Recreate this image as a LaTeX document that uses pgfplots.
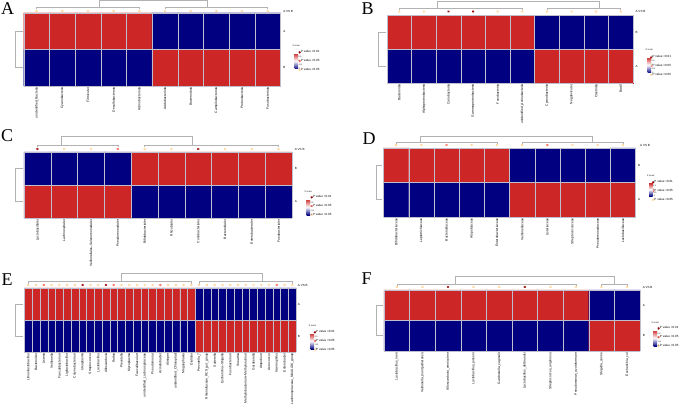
\documentclass[border=0pt]{standalone}
\usepackage{fontspec}
\setmainfont{Liberation Sans}
\newfontfamily\serif{Liberation Serif}
\usepackage{pgfplots}
\pgfplotsset{compat=1.18}
\definecolor{gridc}{RGB}{190,190,205}
\definecolor{dend}{RGB}{178,178,178}
\definecolor{pdr}{RGB}{160,10,10}
\definecolor{psal}{RGB}{255,105,85}
\definecolor{plt}{RGB}{255,212,150}
\newcommand{\tf}{\fontsize{3}{3}\selectfont}
\pgfplotsset{
 hm/.style={
  scale only axis, clip=false, xmin=0, ymin=0, anchor=north west,
  axis line style={draw=none}, major tick length=0pt, ytick=\empty,
  /pgf/number format/assume math mode=true,
  xticklabel style={rotate=90, anchor=east, font=\fontsize{3.3}{3.3}\selectfont, inner sep=1pt},
  colormap={zs}{rgb255=(0,0,128) color=(white) rgb255=(205,38,38)},
  point meta min=-1, point meta max=1,
  colorbar,
  colorbar style={at={(parent axis.north east)}, anchor=north west, width=3.5pt, height=16pt,
    ytick={-1,-0.5,0,0.5,1}, yticklabel style={font=\fontsize{2}{2}\selectfont, inner sep=0.4pt},
    /pgf/number format/assume math mode=true,
    major tick length=0pt, axis line style={draw=none},
    title={Z score}, title style={font=\fontsize{2.2}{2.2}\selectfont, inner sep=0.3pt}},
  legend style={draw=none, fill=none, anchor=north west, font=\fontsize{3}{3}\selectfont, inner sep=0pt, row sep=4.5pt, nodes={inner sep=0.3pt}},
  legend cell align=left,
  legend image code/.code={\draw[#1] plot coordinates {(1.2pt,0pt)};},
 },
 dd/.style={dend, line width=0.55pt, mark=none, forget plot},
 st/.style={only marks, mark=asterisk, mark size=1.2pt, line width=0.45pt, forget plot},
 gl/.style={gridc, line width=0.35pt, mark=none, forget plot},
}
\newcommand{\plegend}{%
 \addlegendimage{only marks, mark=asterisk, mark size=1.2pt, line width=0.45pt, color=pdr}\addlegendentry{P value <0.01}
 \addlegendimage{only marks, mark=asterisk, mark size=1.2pt, line width=0.45pt, color=psal}\addlegendentry{P value <0.05}
 \addlegendimage{only marks, mark=asterisk, mark size=1.2pt, line width=0.45pt, color=plt}\addlegendentry{P value >0.05}}
\begin{document}
\begin{tikzpicture}[x=1pt,y=1pt]
\path[use as bounding box] (0pt,0pt) rectangle (685pt,413pt);
\node[anchor=base west, inner sep=0, font=\serif\fontsize{18}{18}\selectfont] at (1pt,398pt) {A};
\node[anchor=base west, inner sep=0, font=\serif\fontsize{18}{18}\selectfont] at (361.5pt,398pt) {B};
\node[anchor=base west, inner sep=0, font=\serif\fontsize{18}{18}\selectfont] at (1pt,271.5pt) {C};
\node[anchor=base west, inner sep=0, font=\serif\fontsize{18}{18}\selectfont] at (362.5pt,269pt) {D};
\node[anchor=base west, inner sep=0, font=\serif\fontsize{18}{18}\selectfont] at (1.5pt,128pt) {E};
\node[anchor=base west, inner sep=0, font=\serif\fontsize{18}{18}\selectfont] at (361.5pt,129pt) {F};

% ---------------- A
\begin{axis}[hm, at={(23.8pt,400pt)}, width=256.7pt, height=73pt, xmax=10, ymax=73,
 xtick={0.5,1.5,...,9.5},
 xticklabels={unidentified\_Bacteria,Cyanobacteria,Firmicutes,Desulfobacterota,Actinobacteriota,Acidobacteriota,Bacteroidota,Campilobacterota,Proteobacteria,Fusobacteriota},
 colorbar style={xshift=5.5pt, yshift=-40pt},
 legend style={at={(1.07,0.493)}}]
\plegend
\addplot[matrix plot*, mesh/cols=10, point meta=explicit, forget plot] coordinates {
(0.5,18.25)[-1] (1.5,18.25)[-1] (2.5,18.25)[-1] (3.5,18.25)[-1] (4.5,18.25)[-1] (5.5,18.25)[1] (6.5,18.25)[1] (7.5,18.25)[1] (8.5,18.25)[1] (9.5,18.25)[1]
(0.5,54.75)[1] (1.5,54.75)[1] (2.5,54.75)[1] (3.5,54.75)[1] (4.5,54.75)[1] (5.5,54.75)[-1] (6.5,54.75)[-1] (7.5,54.75)[-1] (8.5,54.75)[-1] (9.5,54.75)[-1]};
\addplot[gl, ycomb] coordinates {(0,73)(1,73)(2,73)(3,73)(4,73)(5,73)(6,73)(7,73)(8,73)(9,73)(10,73)};
\addplot[gl, xcomb] coordinates {(10,0)(10,36.5)(10,73)};
\addplot[dd] coordinates {(0.5,77)(0.5,79)(4.5,79)(4.5,77)};
\addplot[dd] coordinates {(5.5,77)(5.5,79)(9.5,79)(9.5,77)};
\addplot[dd] coordinates {(2.93,79)(2.93,85.5)(7.14,85.5)(7.14,79)};
\addplot[dd] coordinates {(-0.05,54.75)(-0.34,54.75)(-0.34,18.25)(-0.05,18.25)};
\addplot[st, plt] coordinates {(0.5,75)(1.5,75)(2.5,75)(3.5,75)(4.5,75)(5.5,75)(6.5,75)(7.5,75)(8.5,75)(9.5,75)};
\node[anchor=west, font=\tf, inner sep=0] at (axis cs:10.1,75) {A VS B};
\node[anchor=west, font=\tf, inner sep=0] at (axis cs:10.1,54.75) {A};
\node[anchor=west, font=\tf, inner sep=0] at (axis cs:10.1,18.25) {B};
\end{axis}

% ---------------- B
\begin{axis}[hm, at={(387pt,398pt)}, width=246pt, height=68pt, xmax=10, ymax=68,
 xtick={0.5,1.5,...,9.5},
 xticklabels={Bacteroidia,Alphaproteobacteria,Coriobacteriia,Gammaproteobacteria,Fusobacteriia,unidentified\_Actinobacteria,Cyanobacteriia,Negativicutes,Clostridia,Bacilli},
 colorbar style={xshift=6pt, yshift=-42pt},
 legend style={at={(1.069,0.41)}}]
\plegend
\addplot[matrix plot*, mesh/cols=10, point meta=explicit, forget plot] coordinates {
(0.5,17)[-1] (1.5,17)[-1] (2.5,17)[-1] (3.5,17)[-1] (4.5,17)[-1] (5.5,17)[-1] (6.5,17)[1] (7.5,17)[1] (8.5,17)[1] (9.5,17)[1]
(0.5,51)[1] (1.5,51)[1] (2.5,51)[1] (3.5,51)[1] (4.5,51)[1] (5.5,51)[1] (6.5,51)[-1] (7.5,51)[-1] (8.5,51)[-1] (9.5,51)[-1]};
\addplot[gl, ycomb] coordinates {(0,68)(1,68)(2,68)(3,68)(4,68)(5,68)(6,68)(7,68)(8,68)(9,68)(10,68)};
\addplot[gl, xcomb] coordinates {(10,0)(10,34)(10,68)};
\addplot[dd] coordinates {(0.5,73)(0.5,75)(5.5,75)(5.5,73)};
\addplot[dd] coordinates {(6.5,73)(6.5,75)(9.5,75)(9.5,73)};
\addplot[dd] coordinates {(2.03,75)(2.03,82)(8.62,82)(8.62,75)};
\addplot[dd] coordinates {(-0.05,51)(-0.37,51)(-0.37,17)(-0.05,17)};
\addplot[st, plt] coordinates {(0.5,71.5)(1.5,71.5)(4.5,71.5)(5.5,71.5)(6.5,71.5)(7.5,71.5)(8.5,71.5)(9.5,71.5)};
\addplot[st, pdr] coordinates {(2.5,71.5)(3.5,71.5)};
\node[anchor=west, font=\tf, inner sep=0] at (axis cs:10.1,71.5) {A VS B};
\node[anchor=west, font=\tf, inner sep=0] at (axis cs:10.1,51) {B};
\node[anchor=west, font=\tf, inner sep=0] at (axis cs:10.1,17) {A};
\end{axis}

% ---------------- C
\begin{axis}[hm, at={(24pt,261pt)}, width=268pt, height=66pt, xmax=10, ymax=66,
 xtick={0.5,1.5,...,9.5},
 xticklabels={Lactobacillales,Lachnospirales,Veillonellales–Selenomonadales,Pseudomonadales,Bifidobacteriales,Rhizobiales,Coriobacteriales,Bacteroidales,Enterobacterales,Fusobacteriales},
 colorbar style={xshift=6pt, yshift=-47pt},
 legend style={at={(1.069,0.35)}}]
\plegend
\addplot[matrix plot*, mesh/cols=10, point meta=explicit, forget plot] coordinates {
(0.5,16.5)[1] (1.5,16.5)[1] (2.5,16.5)[1] (3.5,16.5)[1] (4.5,16.5)[-1] (5.5,16.5)[-1] (6.5,16.5)[-1] (7.5,16.5)[-1] (8.5,16.5)[-1] (9.5,16.5)[-1]
(0.5,49.5)[-1] (1.5,49.5)[-1] (2.5,49.5)[-1] (3.5,49.5)[-1] (4.5,49.5)[1] (5.5,49.5)[1] (6.5,49.5)[1] (7.5,49.5)[1] (8.5,49.5)[1] (9.5,49.5)[1]};
\addplot[gl, ycomb] coordinates {(0,66)(1,66)(2,66)(3,66)(4,66)(5,66)(6,66)(7,66)(8,66)(9,66)(10,66)};
\addplot[gl, xcomb] coordinates {(10,0)(10,33)(10,66)};
\addplot[dd] coordinates {(0.5,71)(0.5,73)(3.5,73)(3.5,71)};
\addplot[dd] coordinates {(4.5,71)(4.5,73)(9.5,73)(9.5,71)};
\addplot[dd] coordinates {(1.38,73)(1.38,82)(6.27,82)(6.27,73)};
\addplot[dd] coordinates {(-0.05,49.5)(-0.34,49.5)(-0.34,16.5)(-0.05,16.5)};
\addplot[st, plt] coordinates {(1.5,69)(2.5,69)(4.5,69)(5.5,69)(7.5,69)(8.5,69)(9.5,69)};
\addplot[st, psal] coordinates {(3.5,69)};
\addplot[st, pdr] coordinates {(0.5,69)(6.5,69)};
\node[anchor=west, font=\tf, inner sep=0] at (axis cs:10.1,69) {A VS B};
\node[anchor=west, font=\tf, inner sep=0] at (axis cs:10.1,49.5) {B};
\node[anchor=west, font=\tf, inner sep=0] at (axis cs:10.1,16.5) {A};
\end{axis}

% ---------------- D
\begin{axis}[hm, at={(383.5pt,265pt)}, width=252pt, height=69pt, xmax=10, ymax=69,
 xtick={0.5,1.5,...,9.5},
 xticklabels={Bifidobacteriaceae,Leptotrichiaceae,Bacteroidaceae,Atopobiaceae,Enterobacteriaceae,Veillonellaceae,Listeriaceae,Streptococcaceae,Pseudomonadaceae,Lactobacillaceae},
 colorbar style={xshift=5pt, yshift=-35pt, height=13pt},
 legend style={at={(1.065,0.536)}}]
\plegend
\addplot[matrix plot*, mesh/cols=10, point meta=explicit, forget plot] coordinates {
(0.5,17.25)[-1] (1.5,17.25)[-1] (2.5,17.25)[-1] (3.5,17.25)[-1] (4.5,17.25)[-1] (5.5,17.25)[1] (6.5,17.25)[1] (7.5,17.25)[1] (8.5,17.25)[1] (9.5,17.25)[1]
(0.5,51.75)[1] (1.5,51.75)[1] (2.5,51.75)[1] (3.5,51.75)[1] (4.5,51.75)[1] (5.5,51.75)[-1] (6.5,51.75)[-1] (7.5,51.75)[-1] (8.5,51.75)[-1] (9.5,51.75)[-1]};
\addplot[gl, ycomb] coordinates {(0,69)(1,69)(2,69)(3,69)(4,69)(5,69)(6,69)(7,69)(8,69)(9,69)(10,69)};
\addplot[gl, xcomb] coordinates {(10,0)(10,34.5)(10,69)};
\addplot[dd] coordinates {(0.5,73.5)(0.5,75)(4.5,75)(4.5,73.5)};
\addplot[dd] coordinates {(5.5,73.5)(5.5,75)(9.5,75)(9.5,73.5)};
\addplot[dd] coordinates {(1.45,75)(1.45,81)(8.27,81)(8.27,75)};
\addplot[dd] coordinates {(-0.05,51.75)(-0.3,51.75)(-0.3,17.25)(-0.05,17.25)};
\addplot[st, plt] coordinates {(0.5,72)(1.5,72)(3.5,72)(4.5,72)(5.5,72)(7.5,72)(8.5,72)(9.5,72)};
\addplot[st, psal] coordinates {(2.5,72)(6.5,72)};
\node[anchor=west, font=\tf, inner sep=0] at (axis cs:10.18,72) {A VS B};
\node[anchor=west, font=\tf, inner sep=0] at (axis cs:10.1,51.75) {B};
\node[anchor=west, font=\tf, inner sep=0] at (axis cs:10.1,17.25) {A};
\end{axis}

% ---------------- E
\begin{axis}[hm, at={(24.4pt,125pt)}, width=271.8pt, height=64pt, xmax=35, ymax=64,
 xtick={0.5,1.5,...,34.5},
 xticklabels={Limosilactobacillus,Bacteroides,Listeria,Veillonella,Faecalibacterium,Ligilactobacillus,Corynebacterium,Ureaplasma,Streptococcus,Lactobacillus,Alloscardovia,Rothia,Prevotella,Mycoplasma,Faecalibaculum,unidentified\_Lachnospiraceae,Pseudomonas,Acinetobacter,Alistipes,unidentified\_Chloroplast,Megasphaera,Dialister,Prevotella\_7,Rikenellaceae\_RC9\_gut\_group,Sutterella,Escherichia–Shigella,Fusobacterium,Sneathia,Methylobacterium–Methylorubrum,Gardnerella,Atopobium,Aerococcus,Haemophilus,Enterobacter,Lachnospiraceae\_NK4A136\_group},
 colorbar style={xshift=6pt, yshift=-45pt},
 legend style={at={(1.064,0.344)}}]
\plegend
\addplot[matrix plot*, mesh/cols=35, point meta=explicit, forget plot] coordinates {
(0.5,16)[-1] (1.5,16)[-1] (2.5,16)[-1] (3.5,16)[-1] (4.5,16)[-1] (5.5,16)[-1] (6.5,16)[-1] (7.5,16)[-1] (8.5,16)[-1] (9.5,16)[-1]
(10.5,16)[-1] (11.5,16)[-1] (12.5,16)[-1] (13.5,16)[-1] (14.5,16)[-1] (15.5,16)[-1] (16.5,16)[-1] (17.5,16)[-1] (18.5,16)[-1] (19.5,16)[-1]
(20.5,16)[-1] (21.5,16)[-1] (22.5,16)[1] (23.5,16)[1] (24.5,16)[1] (25.5,16)[1] (26.5,16)[1] (27.5,16)[1] (28.5,16)[1] (29.5,16)[1]
(30.5,16)[1] (31.5,16)[1] (32.5,16)[1] (33.5,16)[1] (34.5,16)[1]
(0.5,48)[1] (1.5,48)[1] (2.5,48)[1] (3.5,48)[1] (4.5,48)[1] (5.5,48)[1] (6.5,48)[1] (7.5,48)[1] (8.5,48)[1] (9.5,48)[1]
(10.5,48)[1] (11.5,48)[1] (12.5,48)[1] (13.5,48)[1] (14.5,48)[1] (15.5,48)[1] (16.5,48)[1] (17.5,48)[1] (18.5,48)[1] (19.5,48)[1]
(20.5,48)[1] (21.5,48)[1] (22.5,48)[-1] (23.5,48)[-1] (24.5,48)[-1] (25.5,48)[-1] (26.5,48)[-1] (27.5,48)[-1] (28.5,48)[-1] (29.5,48)[-1]
(30.5,48)[-1] (31.5,48)[-1] (32.5,48)[-1] (33.5,48)[-1] (34.5,48)[-1]};
\addplot[gl, ycomb] coordinates {(0,64)(1,64)(2,64)(3,64)(4,64)(5,64)(6,64)(7,64)(8,64)(9,64)(10,64)(11,64)(12,64)(13,64)(14,64)(15,64)(16,64)(17,64)(18,64)(19,64)(20,64)(21,64)(22,64)(23,64)(24,64)(25,64)(26,64)(27,64)(28,64)(29,64)(30,64)(31,64)(32,64)(33,64)(34,64)(35,64)};
\addplot[gl, xcomb] coordinates {(35,0)(35,32)(35,64)};
\addplot[dd] coordinates {(0.5,68.5)(0.5,70.3)(21.5,70.3)(21.5,68.5)};
\addplot[dd] coordinates {(22.5,68.5)(22.5,70.3)(34.5,70.3)(34.5,68.5)};
\addplot[dd] coordinates {(12.44,70.3)(12.44,78.7)(30.6,78.7)(30.6,70.3)};
\addplot[dd] coordinates {(-0.18,48)(-1.21,48)(-1.21,16)(-0.18,16)};
\addplot[st, plt] coordinates {(0.5,67)(1.5,67)(3.5,67)(4.5,67)(5.5,67)(6.5,67)(8.5,67)(9.5,67)(12.5,67)(13.5,67)(14.5,67)(15.5,67)(16.5,67)(18.5,67)(19.5,67)(20.5,67)(21.5,67)(22.5,67)(23.5,67)(24.5,67)(25.5,67)(26.5,67)(27.5,67)(28.5,67)(29.5,67)(30.5,67)(31.5,67)(33.5,67)(34.5,67)};
\addplot[st, psal] coordinates {(2.5,67)(11.5,67)(17.5,67)(32.5,67)};
\addplot[st, pdr] coordinates {(7.5,67)(10.5,67)};
\node[anchor=west, font=\tf, inner sep=0] at (axis cs:35.2,67) {A VS B};
\node[anchor=west, font=\tf, inner sep=0] at (axis cs:35.2,48) {A};
\node[anchor=west, font=\tf, inner sep=0] at (axis cs:35.2,16) {B};
\end{axis}

% ---------------- F
\begin{axis}[hm, at={(384pt,123pt)}, width=256pt, height=61pt, xmax=10, ymax=61,
 xtick={0.5,1.5,...,9.5},
 xticklabels={Lactobacillus\_iners,Veillonella\_montpellierensis,Alloscardovia\_omnicolens,Lactobacillus\_jensenii,Gardnerella\_vaginalis,Lactobacillus\_delbrueckii,Streptococcus\_anginosus,Pseudomonas\_azotoformans,Shigella\_sonnei,Escherichia\_coli},
 colorbar style={xshift=5pt, yshift=-40pt},
 legend style={at={(1.068,0.41)}}]
\plegend
\addplot[matrix plot*, mesh/cols=10, point meta=explicit, forget plot] coordinates {
(0.5,15.25)[-1] (1.5,15.25)[-1] (2.5,15.25)[-1] (3.5,15.25)[-1] (4.5,15.25)[-1] (5.5,15.25)[-1] (6.5,15.25)[-1] (7.5,15.25)[-1] (8.5,15.25)[1] (9.5,15.25)[1]
(0.5,45.75)[1] (1.5,45.75)[1] (2.5,45.75)[1] (3.5,45.75)[1] (4.5,45.75)[1] (5.5,45.75)[1] (6.5,45.75)[1] (7.5,45.75)[1] (8.5,45.75)[-1] (9.5,45.75)[-1]};
\addplot[gl, ycomb] coordinates {(0,61)(1,61)(2,61)(3,61)(4,61)(5,61)(6,61)(7,61)(8,61)(9,61)(10,61)};
\addplot[gl, xcomb] coordinates {(10,0)(10,30.5)(10,61)};
\addplot[dd] coordinates {(0.5,65.5)(0.5,67)(7.5,67)(7.5,65.5)};
\addplot[dd] coordinates {(8.5,65.5)(8.5,67)(9.5,67)(9.5,65.5)};
\addplot[dd] coordinates {(2.77,67)(2.77,74.3)(8.98,74.3)(8.98,67)};
\addplot[dd] coordinates {(-0.05,45.75)(-0.31,45.75)(-0.31,15.25)(-0.05,15.25)};
\addplot[st, plt] coordinates {(0.5,64)(1.5,64)(3.5,64)(4.5,64)(6.5,64)(7.5,64)(8.5,64)(9.5,64)};
\addplot[st, pdr] coordinates {(2.5,64)(5.5,64)};
\node[anchor=west, font=\tf, inner sep=0] at (axis cs:10.1,64) {A VS B};
\node[anchor=west, font=\tf, inner sep=0] at (axis cs:10.1,45.75) {A};
\node[anchor=west, font=\tf, inner sep=0] at (axis cs:10.1,15.25) {B};
\end{axis}
\end{tikzpicture}
\end{document}
